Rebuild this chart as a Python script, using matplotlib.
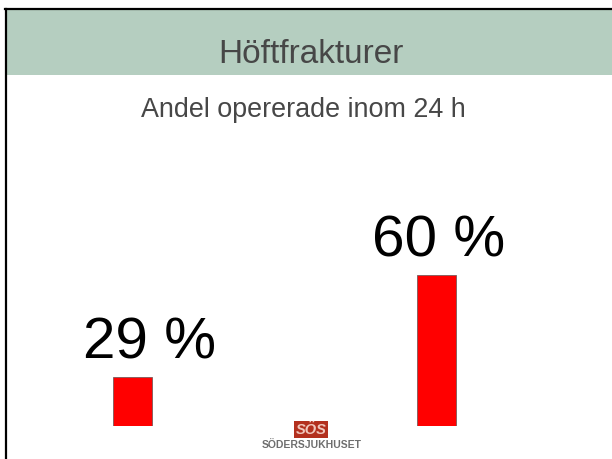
import matplotlib.pyplot as plt
from matplotlib.patches import Rectangle
from matplotlib.lines import Line2D

plt.rcParams['font.family'] = ['Liberation Sans', 'DejaVu Sans']

#%% data
groups = ['Före', 'Efter']
andel = [29, 60]
etiketter = ['29 %', '60 %']
etikett_dx = [17, 2]   # pixel offset of the big labels from bar centre

titel = 'Höftfrakturer'
undertitel = 'Andel opererade inom 24 h'

#%% figure / slide background
fig = plt.figure(figsize=(6.12, 4.59), dpi=100)
W, H = 612., 459.

def fx(px):
    return px / W

def fy(py):
    return 1 - py / H

# green header band
fig.add_artist(Rectangle((fx(7), fy(74.5)), 1 - fx(7), fy(10) - fy(74.5),
                         transform=fig.transFigure, facecolor='#b5cec0',
                         edgecolor='none', zorder=0))
# slide frame (top + left only, slide is cut off)
fig.add_artist(Line2D([fx(5), 1], [fy(9), fy(9)], transform=fig.transFigure,
                      color='black', lw=1.6))
fig.add_artist(Line2D([fx(6), fx(6)], [0, fy(9)], transform=fig.transFigure,
                      color='black', lw=1.6))

fig.text(fx(311), fy(63.3), titel, ha='center', va='baseline',
         fontsize=24, color='#474747')
fig.text(fx(303), fy(117.3), undertitel, ha='center', va='baseline',
         fontsize=19.4, color='#474747')

#%% bars
ax = fig.add_axes([fx(8), fy(425.6), fx(608) - fx(8), fy(80) - fy(425.6)])
x = range(len(andel))
ax.bar(x, andel, width=0.128, color='#ff0000', edgecolor='#7a5a5a',
       linewidth=0.6, bottom=0)
ax.set_ylim(14.05, 119.7)
ax.set_xlim(-0.411, 1.564)
ax.axis('off')

for i, (v, t) in enumerate(zip(andel, etiketter)):
    ax.annotate(t, xy=(i, v), xytext=(etikett_dx[i], 18.6),
                textcoords='offset pixels', ha='center', va='baseline',
                fontsize=42, color='black')

#%% logo
fig.text(fx(311), fy(429.5), 'SÖS', ha='center', va='center', fontsize=10.5,
         fontweight='bold', fontstyle='italic', color='#f0c8bd',
         bbox=dict(boxstyle='square,pad=0.12', facecolor='#b3301e',
                   edgecolor='none'))
fig.text(fx(312), fy(444.5), 'SÖDERSJUKHUSET', ha='center', va='center',
         fontsize=7.5, fontweight='bold', color='#6e6e6e')

plt.savefig('out.png', dpi=100)
